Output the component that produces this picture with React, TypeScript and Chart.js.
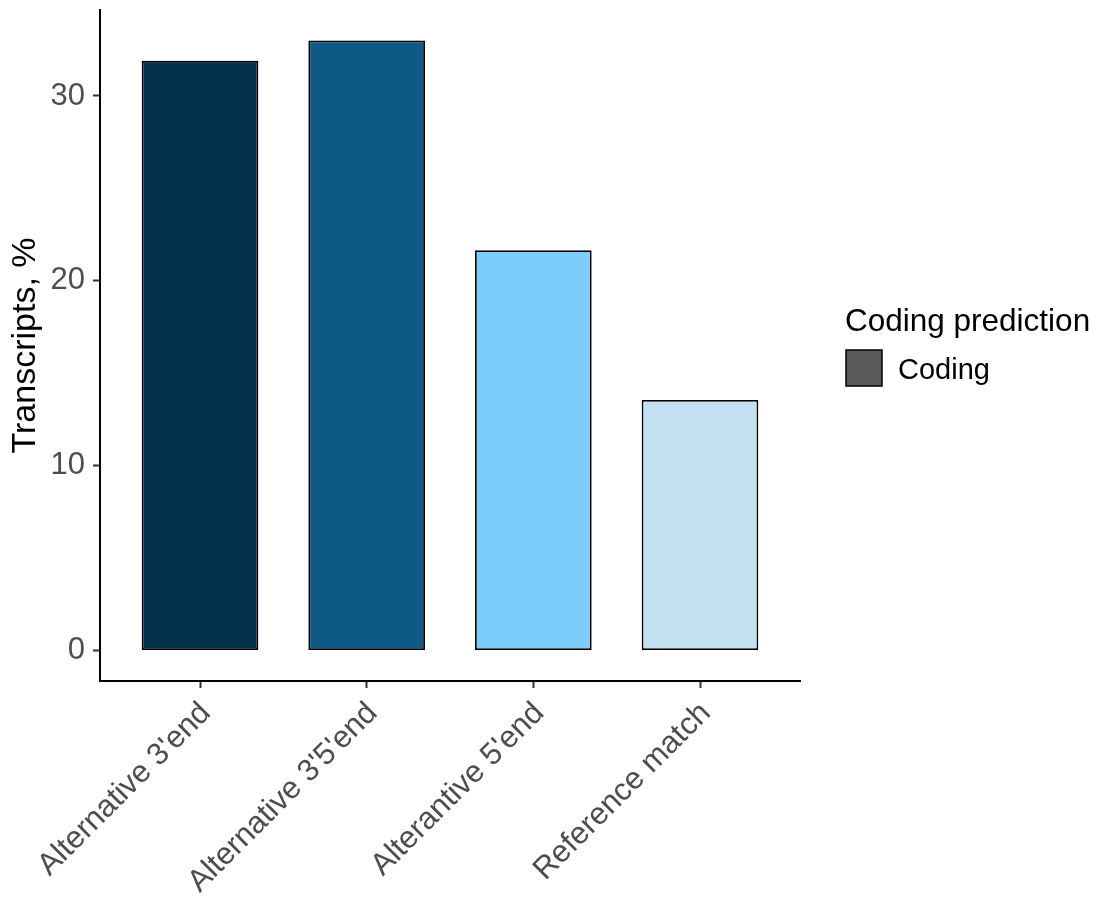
import React, { useEffect, useRef } from "react";
import { Chart, registerables } from "chart.js";

Chart.register(...registerables);

const categories = ["Alternative 3'end", "Alternative 3'5'end", "Alterantive 5'end", "Reference match"];
const values = [31.9, 33.0, 21.65, 13.55];
const barColors = ["#04314B", "#0E5A84", "#7DCDFB", "#C4E1F2"];
const yTicks = [0, 10, 20, 30];
const yTitle = "Transcripts, %";
const legendTitle = "Coding prediction";
const legendLabels = ["Coding"];
const legendColors = ["#595959"];

const FONT = "'Liberation Sans', Arial, Helvetica, sans-serif";

const legendPlugin = {
  id: "customLegend",
  afterDraw(chart: any) {
    const ctx = chart.ctx;
    ctx.save();
    ctx.fillStyle = "#000000";
    ctx.textBaseline = "alphabetic";
    ctx.textAlign = "left";
    ctx.font = `31.5px ${FONT}`;
    ctx.fillText(legendTitle, 845, 331);
    legendLabels.forEach((lab, i) => {
      const y0 = 350 + i * 44;
      ctx.fillStyle = legendColors[i];
      ctx.fillRect(846, y0, 36, 36);
      ctx.strokeStyle = "#000000";
      ctx.lineWidth = 1.5;
      ctx.strokeRect(846, y0, 36, 36);
      ctx.fillStyle = "#000000";
      ctx.font = `29px ${FONT}`;
      ctx.fillText(lab, 898, y0 + 29);
    });
    ctx.restore();
  },
};

export default function App() {
  const ref = useRef<HTMLCanvasElement | null>(null);
  useEffect(() => {
    if (!ref.current) return;
    Chart.defaults.font.family = FONT;
    const chart = new Chart(ref.current, {
      type: "bar",
      data: {
        datasets: [
          {
            label: legendLabels[0],
            data: values.map((v, i) => ({ x: i + 1, y: v })),
            backgroundColor: barColors,
            borderColor: "#000000",
            borderWidth: 1.8,
            borderSkipped: false,
            barPercentage: 0.7,
            categoryPercentage: 1,
          },
        ],
      },
      options: {
        animation: false,
        responsive: false,
        devicePixelRatio: 1,
        layout: { padding: { top: 10, right: 298, left: 0, bottom: 0 } },
        plugins: { legend: { display: false }, tooltip: { enabled: false } },
        scales: {
          x: {
            type: "linear",
            offset: false,
            min: 0.4,
            max: 4.6,
            afterBuildTicks: (axis: any) => {
              axis.ticks = categories.map((_, i) => ({ value: i + 1 }));
            },
            afterFit: (scale: any) => {
              scale.height = 218;
              scale.paddingLeft = 0;
              scale.paddingRight = 0;
            },
            ticks: {
              autoSkip: false,
              minRotation: 45,
              maxRotation: 45,
              padding: 7,
              labelOffset: 6,
              color: "#4D4D4D",
              font: { size: 31, family: FONT },
              callback: (v: any) => categories[Math.round(Number(v)) - 1] ?? "",
            },
            grid: {
              offset: false,
              drawOnChartArea: false,
              drawTicks: true,
              tickLength: 7,
              tickColor: "#333333",
              tickWidth: 2,
            },
            border: { display: true, color: "#000000", width: 2 },
          },
          y: {
            type: "linear",
            min: -1.65,
            max: 34.65,
            afterBuildTicks: (axis: any) => {
              axis.ticks = yTicks.map((v) => ({ value: v }));
            },
            afterFit: (scale: any) => {
              scale.width = 100;
              scale.paddingTop = 0;
              scale.paddingBottom = 0;
            },
            ticks: {
              padding: 8,
              color: "#4D4D4D",
              font: { size: 31, family: FONT },
              callback: (v: any) => String(v),
            },
            grid: {
              drawOnChartArea: false,
              drawTicks: true,
              tickLength: 7,
              tickColor: "#333333",
              tickWidth: 2,
            },
            border: { display: true, color: "#000000", width: 2 },
            title: {
              display: true,
              text: yTitle,
              color: "#000000",
              font: { size: 34, family: FONT },
              padding: { top: 5, bottom: 0 },
            },
          },
        },
      },
      plugins: [legendPlugin],
    } as any);
    return () => chart.destroy();
  }, []);
  return (
    <div style={{ position: "absolute", left: 0, top: 0, width: 1098, height: 899, background: "#ffffff" }}>
      <canvas ref={ref} width={1098} height={899} style={{ width: 1098, height: 899 }} />
    </div>
  );
}
